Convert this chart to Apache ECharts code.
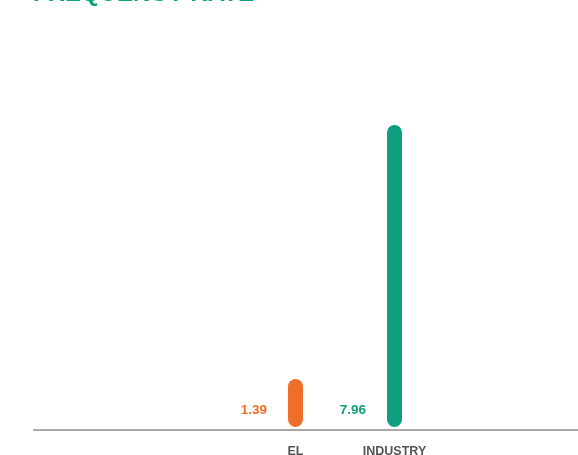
<!DOCTYPE html>
<html>
<head>
<meta charset="utf-8">
<script src="https://cdn.jsdelivr.net/npm/echarts@6/dist/echarts.min.js"></script>
<style>
  html, body { margin: 0; padding: 0; background: #ffffff; }
  #chart { width: 578px; height: 455px; }
</style>
</head>
<body>
<div id="chart"></div>
<script>
// Frequency rate: company vs industry
const titleText = 'FREQUENCY RATE';
const categories = ['EL', 'INDUSTRY'];
const values = [1.39, 7.96];
const barColors = ['#ef6f2a', '#0e9f7e'];

const chart = echarts.init(document.getElementById('chart'));

chart.setOption({
  animation: false,
  backgroundColor: '#ffffff',
  title: {
    text: titleText,
    left: 28,
    top: -23,
    textStyle: {
      color: '#0e9f7e',
      fontFamily: 'Liberation Sans',
      fontWeight: 'bold',
      fontSize: 24
    }
  },
  grid: [
    // baseline grid carrying the long axis rule
    { left: 34, right: 0, top: 46, bottom: 25, outerBoundsMode: 'none', containLabel: false },
    // bar grid
    { left: 246, right: 134, top: 46, bottom: 28, outerBoundsMode: 'none', containLabel: false }
  ],
  xAxis: [
    {
      gridIndex: 0,
      type: 'category',
      data: [''],
      axisLine: { show: true, lineStyle: { color: '#a9a9a9', width: 2 } },
      axisTick: { show: false },
      axisLabel: { show: false }
    },
    {
      gridIndex: 1,
      type: 'category',
      data: categories,
      axisLine: { show: false },
      axisTick: { show: false },
      axisLabel: {
        margin: 18.5,
        color: '#555555',
        fontFamily: 'Liberation Sans',
        fontWeight: 'bold',
        fontSize: 12.5
      }
    }
  ],
  yAxis: [
    { gridIndex: 0, type: 'value', show: false, min: 0, max: 1 },
    { gridIndex: 1, type: 'value', show: false, min: 0.15, max: 10 }
  ],
  series: [
    {
      type: 'bar',
      xAxisIndex: 1,
      yAxisIndex: 1,
      barWidth: 15,
      data: values.map((v, i) => ({
        value: v,
        itemStyle: { color: barColors[i], borderRadius: 7.5 },
        label: { color: barColors[i] }
      })),
      label: {
        show: true,
        position: [-21, '100%'],
        offset: [0, -17],
        align: 'right',
        verticalAlign: 'middle',
        fontFamily: 'Liberation Sans',
        fontWeight: 'bold',
        fontSize: 13.5,
        formatter: p => p.value.toFixed(2)
      }
    }
  ]
});
</script>
</body>
</html>
